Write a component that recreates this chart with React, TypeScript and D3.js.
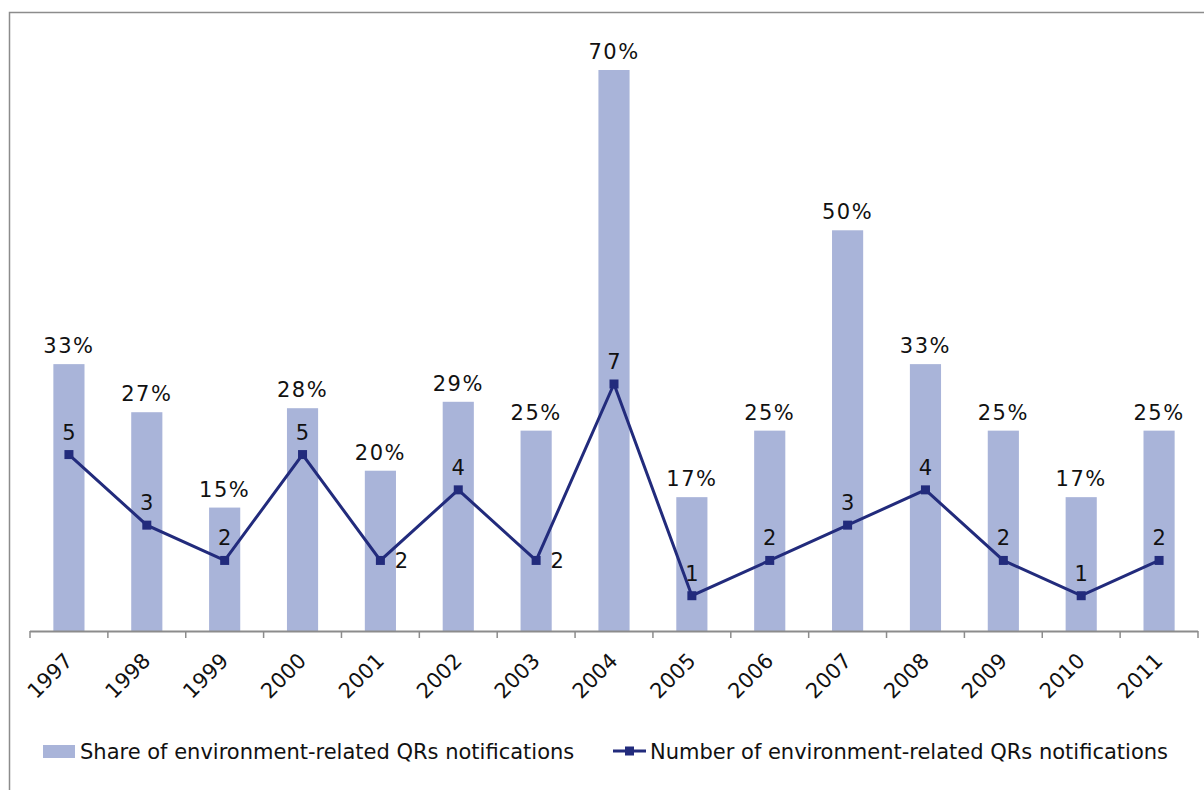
import React, { useEffect, useRef } from 'react';
import * as d3 from 'd3';

const years = ['1997', '1998', '1999', '2000', '2001', '2002', '2003', '2004', '2005', '2006', '2007', '2008', '2009', '2010', '2011'];
const shareValues = [0.333, 0.273, 0.154, 0.278, 0.2, 0.286, 0.25, 0.7, 0.167, 0.25, 0.5, 0.333, 0.25, 0.167, 0.25];
const shareLabels = ['33%', '27%', '15%', '28%', '20%', '29%', '25%', '70%', '17%', '25%', '50%', '33%', '25%', '17%', '25%'];
const countValues = [5, 3, 2, 5, 2, 4, 2, 7, 1, 2, 3, 4, 2, 1, 2];
// where the count label sits relative to its marker
const countLabelPos = ['top', 'top', 'top', 'top', 'right', 'top', 'right', 'top', 'top', 'top', 'top', 'top', 'top', 'top', 'top'];

const barName = 'Share of environment-related QRs notifications';
const lineName = 'Number of environment-related QRs notifications';

const BAR_COLOR = '#A9B4D9';
const LINE_COLOR = '#222B7C';
const FONT = '"DejaVu Sans", Verdana, sans-serif';

const App: React.FC = () => {
  const svgRef = useRef<SVGSVGElement>(null);
  const width = 1204;
  const height = 790;
  const margin = { left: 30, right: 6, baseline: 631 };

  useEffect(() => {
    if (!svgRef.current) return;
    const svg = d3.select(svgRef.current);
    svg.selectAll('*').remove();

    // outer chart border (continues past the right/bottom edges)
    svg.append('rect')
      .attr('x', 9.5).attr('y', 12.5)
      .attr('width', 1400).attr('height', 1000)
      .attr('fill', 'none')
      .attr('stroke', '#8c8c8c')
      .attr('stroke-width', 1.5);

    const x = d3.scaleBand()
      .domain(years)
      .range([margin.left, width - margin.right])
      .paddingInner(0)
      .paddingOuter(0);

    const yShare = d3.scaleLinear().domain([0, 0.7]).range([margin.baseline, 70]);
    const yCount = d3.scaleLinear().domain([0, 7]).range([margin.baseline, 384]);

    const barW = x.bandwidth() * 0.4;
    const cx = (d: string) => (x(d) || 0) + x.bandwidth() / 2;

    // bars
    svg.append('g').selectAll('rect')
      .data(years)
      .join('rect')
      .attr('x', d => cx(d) - barW / 2)
      .attr('y', (d, i) => yShare(shareValues[i]))
      .attr('width', barW)
      .attr('height', (d, i) => margin.baseline - yShare(shareValues[i]))
      .attr('fill', BAR_COLOR);

    // bar labels
    svg.append('g').selectAll('text')
      .data(years)
      .join('text')
      .attr('x', d => cx(d))
      .attr('y', (d, i) => yShare(shareValues[i]) - 11)
      .attr('text-anchor', 'middle')
      .attr('font-family', FONT)
      .attr('font-size', 21)
      .attr('letter-spacing', 1.5)
      .attr('fill', '#111')
      .text((d, i) => shareLabels[i]);

    // x axis
    const axis = svg.append('g');
    axis.append('line')
      .attr('x1', margin.left).attr('x2', width - margin.right)
      .attr('y1', margin.baseline + 0.5).attr('y2', margin.baseline + 0.5)
      .attr('stroke', '#8c8c8c').attr('stroke-width', 2);
    const tickXs = years.map(d => x(d) || 0).concat([width - margin.right]);
    axis.selectAll('line.tick')
      .data(tickXs)
      .join('line')
      .attr('class', 'tick')
      .attr('x1', d => d).attr('x2', d => d)
      .attr('y1', margin.baseline).attr('y2', margin.baseline + 7)
      .attr('stroke', '#8c8c8c').attr('stroke-width', 1.5);
    axis.selectAll('text')
      .data(years)
      .join('text')
      .attr('transform', d => `translate(${cx(d) + 5},${margin.baseline + 31}) rotate(-45)`)
      .attr('text-anchor', 'end')
      .attr('font-family', FONT)
      .attr('font-size', 21)
      .attr('fill', '#111')
      .text(d => d);

    // line series
    const line = d3.line<number>()
      .x((d, i) => cx(years[i]))
      .y(d => yCount(d));
    svg.append('path')
      .datum(countValues)
      .attr('d', line)
      .attr('fill', 'none')
      .attr('stroke', LINE_COLOR)
      .attr('stroke-width', 3);
    svg.append('g').selectAll('rect')
      .data(countValues)
      .join('rect')
      .attr('x', (d, i) => cx(years[i]) - 4.5)
      .attr('y', d => yCount(d) - 4.5)
      .attr('width', 9).attr('height', 9)
      .attr('fill', LINE_COLOR);
    svg.append('g').selectAll('text')
      .data(countValues)
      .join('text')
      .attr('x', (d, i) => countLabelPos[i] === 'right' ? cx(years[i]) + 21 : cx(years[i]))
      .attr('y', (d, i) => countLabelPos[i] === 'right' ? yCount(d) + 8 : yCount(d) - 15)
      .attr('text-anchor', 'middle')
      .attr('font-family', FONT)
      .attr('font-size', 21)
      .attr('fill', '#111')
      .text(d => String(d));

    // legend
    const legend = svg.append('g').attr('transform', 'translate(0,751)');
    legend.append('rect')
      .attr('x', 43).attr('y', -6).attr('width', 32).attr('height', 13)
      .attr('fill', BAR_COLOR);
    legend.append('text')
      .attr('x', 80).attr('y', 8)
      .attr('font-family', FONT).attr('font-size', 21).attr('fill', '#111')
      .text(barName);
    legend.append('line')
      .attr('x1', 613).attr('x2', 646).attr('y1', 0).attr('y2', 0)
      .attr('stroke', LINE_COLOR).attr('stroke-width', 3);
    legend.append('rect')
      .attr('x', 625).attr('y', -4.5).attr('width', 9).attr('height', 9)
      .attr('fill', LINE_COLOR);
    legend.append('text')
      .attr('x', 650).attr('y', 8)
      .attr('font-family', FONT).attr('font-size', 21).attr('fill', '#111')
      .text(lineName);
  }, []);

  return (
    <svg
      ref={svgRef}
      width={width}
      height={height}
      style={{ position: 'absolute', left: 0, top: 0, background: '#fff' }}
    />
  );
};

export default App;
